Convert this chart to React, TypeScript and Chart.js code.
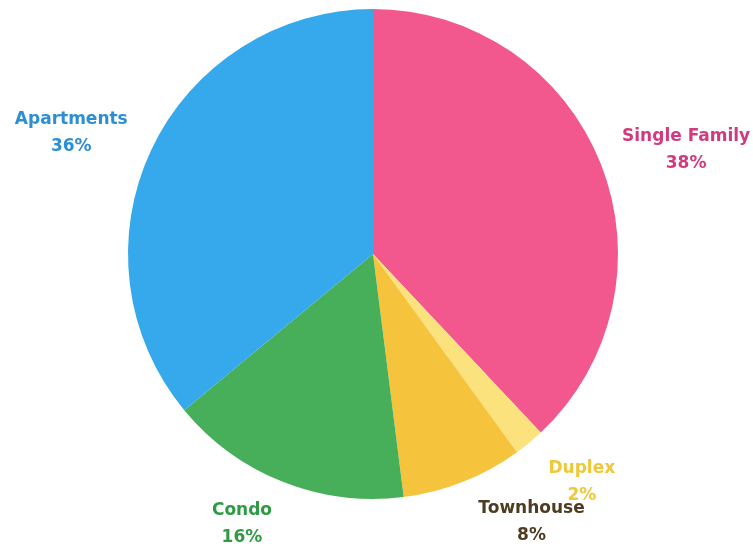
import React, { useEffect, useRef } from "react";
import { Chart, registerables } from "chart.js";

Chart.register(...registerables);

const categories = ["Single Family", "Duplex", "Townhouse", "Condo", "Apartments"];
const shares = [38, 2, 8, 16, 36];
const sliceColors = ["#F2588E", "#FBE27C", "#F6C43C", "#47AF5A", "#36A9EC"];
const labelColors = ["#D23A80", "#EFC83A", "#4E3C22", "#2F9A45", "#2C8FD6"];

// small label nudges (Excel-style collision avoidance), in px
const labelNudge: Record<string, [number, number]> = {
  "Single Family": [-4, 2],
  Duplex: [11, 5],
  Townhouse: [37, -1],
  Condo: [-18, 1],
  Apartments: [0, 2],
};

const labelPlugin = {
  id: "outsideLabels",
  afterDraw(chart: any) {
    const ctx = chart.ctx;
    const meta = chart.getDatasetMeta(0);
    const font = "bold 17px 'DejaVu Sans', Verdana, sans-serif";
    const lineGap = 27;
    ctx.save();
    ctx.font = font;
    ctx.textAlign = "center";
    ctx.textBaseline = "middle";
    meta.data.forEach((arc: any, i: number) => {
      const { x, y, startAngle, endAngle, outerRadius } = arc.getProps(
        ["x", "y", "startAngle", "endAngle", "outerRadius"],
        true
      );
      const mid = (startAngle + endAngle) / 2;
      const cos = Math.cos(mid);
      const sin = Math.sin(mid);
      const d = outerRadius + 32;
      const ax = x + cos * d;
      const ay = y + sin * d;
      const line1 = categories[i];
      const line2 = shares[i] + "%";
      const w = Math.max(ctx.measureText(line1).width, ctx.measureText(line2).width);
      const nudge = labelNudge[line1] || [0, 0];
      const cx = ax + (w / 2) * cos + nudge[0];
      const cy = ay + 12 * sin + nudge[1];
      ctx.fillStyle = labelColors[i];
      ctx.fillText(line1, cx, cy - lineGap / 2);
      ctx.fillText(line2, cx, cy + lineGap / 2);
    });
    ctx.restore();
  },
};

export default function App() {
  const ref = useRef<HTMLCanvasElement | null>(null);
  useEffect(() => {
    if (!ref.current) return;
    const chart = new Chart(ref.current, {
      type: "pie",
      data: {
        labels: categories,
        datasets: [
          {
            data: shares,
            backgroundColor: sliceColors,
            borderWidth: 0,
          },
        ],
      },
      options: {
        animation: false,
        responsive: true,
        maintainAspectRatio: false,
        layout: { padding: { top: 9, bottom: 51, left: 0, right: 7 } },
        plugins: {
          legend: { display: false },
          tooltip: { enabled: false },
        },
      },
      plugins: [labelPlugin],
    });
    return () => chart.destroy();
  }, []);
  return (
    <div
      style={{
        position: "fixed",
        left: 0,
        top: 0,
        width: 753,
        height: 550,
        background: "#FFFFFF",
      }}
    >
      <canvas ref={ref} />
    </div>
  );
}
